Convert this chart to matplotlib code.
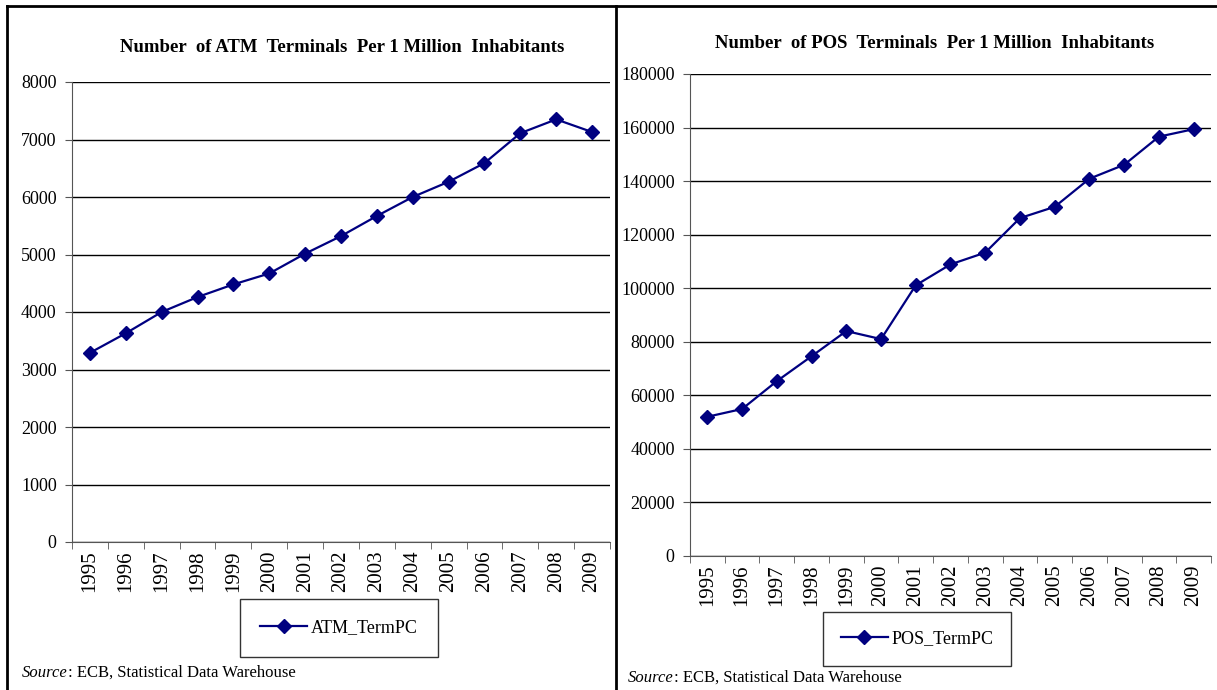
import matplotlib
matplotlib.use('Agg')
import matplotlib.pyplot as plt
from matplotlib.lines import Line2D

plt.rcParams['font.family'] = ['Liberation Serif', 'DejaVu Serif']

# Data
years = [str(y) for y in range(1995, 2010)]
atm_values = [3290, 3630, 4000, 4260, 4480, 4670, 5015, 5320, 5670, 6000,
              6265, 6590, 7110, 7350, 7130]
pos_values = [52000, 54900, 65300, 74600, 84000, 81000, 101100, 108900, 113300,
              126200, 130400, 140900, 146100, 156600, 159400]

atm_ticks = list(range(0, 8001, 1000))
pos_ticks = list(range(0, 180001, 20000))

line_color = '#000080'

fig = plt.figure(figsize=(12.17, 6.90), dpi=100)

# ── Panel frames ─────────────────────────────────────────────────────────────
W, H = 1217, 690
def px(x, y):
    return x / W, 1 - y / H

for xs, ys in [((7, 1217), (6, 6)), ((7, 7), (6, 690)), ((616, 616), (6, 690))]:
    (x0, y0), (x1, y1) = px(xs[0], ys[0]), px(xs[1], ys[1])
    fig.add_artist(Line2D([x0, x1], [y0, y1], color='black', lw=2,
                          transform=fig.transFigure))

ax_atm = fig.add_axes([72 / W, 1 - 542 / H, (610 - 72) / W, (542 - 82) / H])
ax_pos = fig.add_axes([690 / W, 1 - 556 / H, (1211 - 690) / W, (556 - 74) / H])


def style_axis(ax, values, ticks, label, title, title_xy):
    x = list(range(len(years)))
    ax.plot(x, values, color=line_color, lw=1.6, marker='D', markersize=7,
            markerfacecolor=line_color, markeredgecolor=line_color, label=label,
            zorder=3)
    ax.set_xlim(-0.5, len(years) - 0.5)
    ax.set_ylim(ticks[0], ticks[-1])
    ax.set_yticks(ticks)
    ax.set_yticklabels([str(t) for t in ticks], fontsize=13)
    ax.set_xticks(x)
    ax.set_xticklabels(years, rotation=90, fontsize=15)
    ax.set_xticks([i - 0.5 for i in range(len(years) + 1)], minor=True)
    ax.tick_params(axis='x', which='major', length=0, pad=6)
    ax.tick_params(axis='x', which='minor', length=5, color='#555555')
    ax.tick_params(axis='y', length=5, color='#555555', pad=6)
    ax.grid(axis='y', color='black', lw=1)
    for side in ['top', 'right']:
        ax.spines[side].set_visible(False)
    for side in ['left', 'bottom']:
        ax.spines[side].set_color('#555555')
    fig.text(*px(*title_xy), title, fontsize=13.5, fontweight='bold',
             ha='center', va='center')


style_axis(ax_atm, atm_values, atm_ticks, 'ATM_TermPC',
           'Number  of ATM  Terminals  Per 1 Million  Inhabitants', (342, 47))
style_axis(ax_pos, pos_values, pos_ticks, 'POS_TermPC',
           'Number  of POS  Terminals  Per 1 Million  Inhabitants', (935, 43))

# ── Legends ──────────────────────────────────────────────────────────────────
for ax, (cx, cy), pad in [(ax_atm, (339, 628), 1.15), (ax_pos, (917, 639), 1.0)]:
    leg = ax.legend(loc='center', bbox_to_anchor=px(cx, cy),
                    bbox_transform=fig.transFigure, fontsize=13, frameon=True,
                    fancybox=False, edgecolor='black', handlelength=2.6,
                    borderpad=pad, handletextpad=0.2, borderaxespad=0)
    leg.get_frame().set_linewidth(1)

# ── Source notes ─────────────────────────────────────────────────────────────
for (sx, sy) in [(22, 673), (628, 678)]:
    t = fig.text(*px(sx, sy), 'Source', fontsize=12, style='italic', va='center')
    fig.add_artist(plt.Annotation(': ECB, Statistical Data Warehouse', xy=(1, 0.5),
                                  xycoords=t, va='center', ha='left', fontsize=12))

fig.savefig('out.png', dpi=100)
